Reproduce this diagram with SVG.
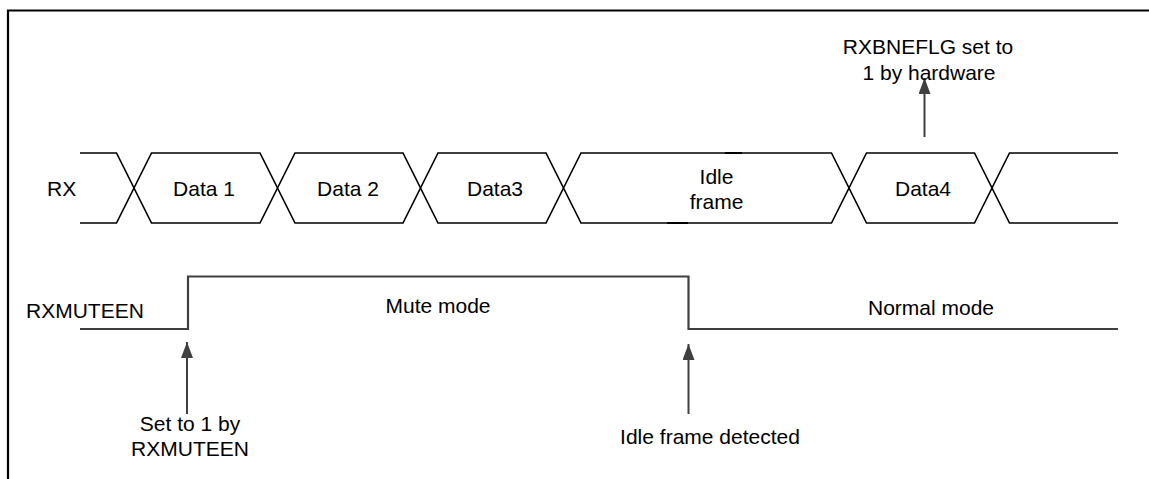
<svg xmlns="http://www.w3.org/2000/svg" width="1149" height="479" viewBox="0 0 1149 479">
<style>
.t{font-family:"Liberation Sans",Arial,sans-serif;font-size:21px;fill:#000}
.c{text-anchor:middle}
.bus{fill:none;stroke:#000;stroke-width:1.6;stroke-linejoin:miter}
.sig{fill:none;stroke:#404040;stroke-width:2.2}
.arr{fill:none;stroke:#404040;stroke-width:2;marker-end:url(#ah)}
</style>
<defs>
<marker id="ah" viewBox="0 0 16 12" refX="16" refY="6" markerWidth="16" markerHeight="12" markerUnits="userSpaceOnUse" orient="auto">
<path d="M0,0 L16,6 L0,12 Z" fill="#404040"/>
</marker>
</defs>
<rect width="1149" height="479" fill="#fff"/>
<path d="M8,479 V10.5 H1149" fill="none" stroke="#000" stroke-width="2.2"/>

<g id="rx-label"><text class="t" x="47" y="196">RX</text></g>
<g id="rx-lead"><path class="bus" d="M80,153 H116.5 L134,188 L116.5,223 H80"/></g>
<g id="data1"><path class="bus" d="M134,188 L151.5,153 H260 L277.5,188 L260,223 H151.5 Z"/><text class="t c" x="204" y="196">Data 1</text></g>
<g id="data2"><path class="bus" d="M277.5,188 L295,153 H403 L420.5,188 L403,223 H295 Z"/><text class="t c" x="348" y="196">Data 2</text></g>
<g id="data3"><path class="bus" d="M420.5,188 L438,153 H546 L563.5,188 L546,223 H438 Z"/><text class="t c" x="495" y="196">Data3</text></g>
<g id="idle"><path class="bus" d="M563.5,188 L581,153 H831.5 L849,188 L831.5,223 H581 Z"/>
<path d="M725,153 H742 M667,223 H688" stroke="#000" stroke-width="2.2"/>
<text class="t c" x="716.5" y="184">Idle</text><text class="t c" x="716.5" y="209">frame</text></g>
<g id="data4"><path class="bus" d="M849,188 L866.5,153 H974.5 L992,188 L974.5,223 H866.5 Z"/><text class="t c" x="923" y="196">Data4</text></g>
<g id="rx-tail"><path class="bus" d="M1118,153 H1009.5 L992,188 L1009.5,223 H1118"/></g>

<g id="rxmuteen-label"><text class="t" x="26" y="318">RXMUTEEN</text></g>
<g id="rxmuteen-signal"><path class="sig" d="M80,329 H188 V276.5 H688.5 V329 H1118"/>
<text class="t c" x="438" y="313">Mute mode</text>
<text class="t c" x="931" y="315">Normal mode</text></g>

<g id="connectors">
<path class="arr" d="M187,414 V342"/>
<path class="arr" d="M688.5,414 V344"/>
<path class="arr" d="M924.5,137 V78"/>
</g>

<g id="note-set"><text class="t c" x="190" y="431">Set to 1 by</text><text class="t c" x="190" y="456">RXMUTEEN</text></g>
<g id="note-idle"><text class="t c" x="710" y="444">Idle frame detected</text></g>
<g id="note-flag"><text class="t c" x="928" y="54">RXBNEFLG set to</text><text class="t c" x="929" y="80">1 by hardware</text></g>
</svg>
